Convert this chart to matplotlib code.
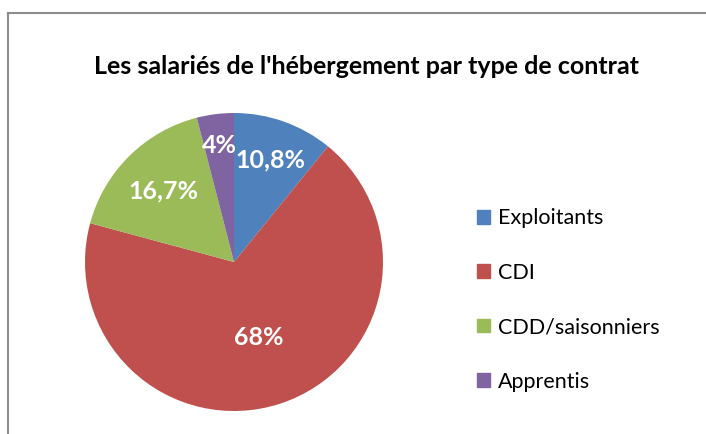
import numpy as np
import matplotlib.pyplot as plt
from matplotlib.lines import Line2D

# data
categories = ['Exploitants', 'CDI', 'CDD/saisonniers', 'Apprentis']
values = [10.8, 68, 16.7, 4]
labels = ['10,8%', '68%', '16,7%', '4%']
colors = ['#4F81BD', '#C0504D', '#9BBB59', '#8064A2']
label_dist = [0.73, 0.53, 0.67, 0.79]

plt.rcParams['font.family'] = ['Lato', 'DejaVu Sans']

fig = plt.figure(figsize=(7.06, 4.34), dpi=100)

# chart frame (only top and left edges visible in the crop)
fig.add_artist(Line2D([8 / 706, 8 / 706], [0, 1 - 13 / 434], color='#8c8c8c', lw=1.5))
fig.add_artist(Line2D([8 / 706, 1], [1 - 13 / 434, 1 - 13 / 434], color='#8c8c8c', lw=1.5))

fig.text(366 / 706, 1 - 67 / 434, "Les salariés de l'hébergement par type de contrat",
         ha='center', va='center', fontsize=18, fontweight='bold')

# pie: center (234, 262), radius 149 px
r = 149
ax = fig.add_axes([(234 - r) / 706, (434 - 262 - r) / 434, 2 * r / 706, 2 * r / 434])
wedges, _ = ax.pie(values, colors=colors, startangle=90, counterclock=False,
                   radius=1, wedgeprops=dict(linewidth=0))
ax.set_xlim(-1, 1)
ax.set_ylim(-1, 1)
ax.set_aspect('equal')

for w, lab, d in zip(wedges, labels, label_dist):
    ang = np.deg2rad((w.theta1 + w.theta2) / 2)
    ax.text(d * np.cos(ang), d * np.sin(ang), lab, ha='center', va='center',
            color='white', fontsize=18, fontweight='bold')

handles = [plt.Rectangle((0, 0), 1, 1, color=c) for c in colors]
fig.legend(handles, categories, loc='center left', bbox_to_anchor=(466 / 706, 1 - 300 / 434),
           frameon=False, fontsize=15.5, handlelength=0.6, handleheight=0.6,
           handletextpad=0.4, labelspacing=1.6, borderpad=0)

fig.savefig('out.png', dpi=100)
